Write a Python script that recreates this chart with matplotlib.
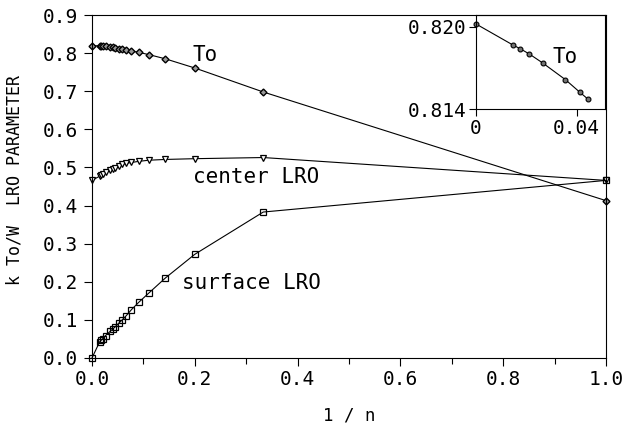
import matplotlib
matplotlib.use('Agg')
import matplotlib.pyplot as plt
from matplotlib.ticker import MultipleLocator

plt.rcParams['font.family'] = 'DejaVu Sans Mono'

# 1/n values (n = chain length)
inv_n = [0.0, 0.0148, 0.0175, 0.0212, 0.0265, 0.0356, 0.0413, 0.0446,
         0.0526, 0.0588, 0.0667, 0.0769, 0.0909, 0.1111, 0.1429, 0.2, 0.3333, 1.0]

to_vals = [0.820, 0.8187, 0.8184, 0.8180, 0.8174, 0.8162, 0.8152, 0.8147,
           0.812, 0.810, 0.808, 0.806, 0.802, 0.796, 0.785, 0.761, 0.698, 0.413]

center_lro = [0.466, 0.477, 0.479, 0.482, 0.487, 0.493, 0.497, 0.499,
              0.505, 0.508, 0.511, 0.513, 0.516, 0.519, 0.521, 0.523, 0.526, 0.466]

surface_lro = [0.0, 0.042, 0.046, 0.051, 0.059, 0.070, 0.077, 0.081,
               0.092, 0.100, 0.111, 0.127, 0.146, 0.171, 0.210, 0.272, 0.383, 0.466]

# inset: To near the n -> infinity limit
inset_x = [0.0, 0.0148, 0.0175, 0.0212, 0.0265, 0.0356, 0.0413, 0.0446]
inset_to = [0.8202, 0.81866, 0.81841, 0.81802, 0.81737, 0.81615, 0.81524, 0.81473]

fig = plt.figure(figsize=(6.24, 4.23), dpi=100)
ax = fig.add_axes([0.1474, 0.1537, 0.8236, 0.8108])

lw = 0.8
ax.plot(inv_n, to_vals, color='black', lw=lw, marker='D', ms=3.5,
        mfc='0.6', mec='black', mew=1.0, clip_on=False)
ax.plot(inv_n, center_lro, color='black', lw=lw, marker='v', ms=5,
        mfc='white', mec='black', mew=0.9, clip_on=False)
ax.plot(inv_n, surface_lro, color='black', lw=lw, marker='s', ms=5,
        mfc='none', mec='black', mew=0.9, clip_on=False)

ax.set_xlim(0, 1)
ax.set_ylim(0, 0.9)
ax.xaxis.set_major_locator(MultipleLocator(0.2))
ax.xaxis.set_minor_locator(MultipleLocator(0.1))
ax.yaxis.set_major_locator(MultipleLocator(0.1))
ax.xaxis.set_major_formatter(lambda v, p: f'{v:.1f}')
ax.yaxis.set_major_formatter(lambda v, p: f'{v:.1f}')
ax.tick_params(direction='out', length=6, width=0.8, labelsize=14, pad=4)
ax.tick_params(axis='x', pad=3)
ax.tick_params(which='minor', direction='out', length=4, width=0.8)
for s in ax.spines.values():
    s.set_linewidth(0.8)

ax.set_xlabel('1 / n', fontsize=12.5, labelpad=12)
ax.set_ylabel('k To/W  LRO PARAMETER', fontsize=12)
ax.yaxis.set_label_coords(-0.134, 0.52)

ax.text(0.195, 0.795, 'To', fontsize=15, va='center')
ax.text(0.197, 0.475, 'center LRO', fontsize=15, va='center')
ax.text(0.176, 0.197, 'surface LRO', fontsize=15, va='center')

# inset
ins = fig.add_axes([0.7628, 0.7416, 0.2067, 0.2229])
ins.patch.set_alpha(0)
ins.plot(inset_x, inset_to, color='black', lw=lw, marker='o', ms=3.5,
         mfc='0.45', mec='black', mew=0.8, clip_on=False)
ins.set_xlim(0, 0.0513)
ins.set_ylim(0.814, 0.82085)
ins.set_xticks([0, 0.04])
ins.set_xticklabels(['0', '0.04'])
ins.set_yticks([0.814, 0.820])
ins.set_yticklabels(['0.814', '0.820'])
ins.tick_params(direction='out', length=5, width=0.8, labelsize=14, pad=2)
for s in ins.spines.values():
    s.set_linewidth(0.8)
ins.text(0.0303, 0.8178, 'To', fontsize=15, va='center')

fig.savefig('out.png', dpi=100)
